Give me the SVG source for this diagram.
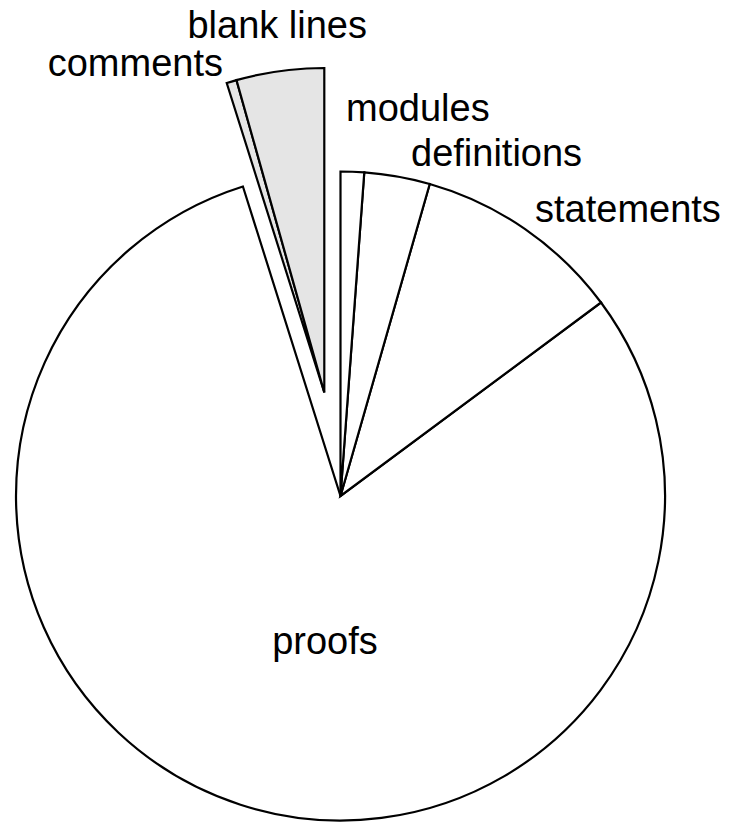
<svg xmlns="http://www.w3.org/2000/svg" width="731" height="822" viewBox="0 0 731 822">
<style>
.s{stroke:#000;stroke-width:2.2;stroke-linejoin:miter}
.w{fill:#fff}
.g{fill:#e5e5e5}
.t{font-family:"Liberation Sans",Arial,sans-serif;font-size:38px;fill:#000}
</style>
<rect width="731" height="822" fill="#fff"/>
<g id="proofs">
<path class="s w" d="M340.5,496 L601,302.5 A324.5,324.5 0 1 1 242.92,186.52 Z"/>
<text class="t" x="325" y="654" text-anchor="middle">proofs</text>
</g>
<g id="statements">
<path class="s w" d="M340.5,496 L429.72,184 A324.5,324.5 0 0 1 601,302.5 Z"/>
<text class="t" x="535" y="222">statements</text>
</g>
<g id="definitions">
<path class="s w" d="M340.5,496 L364.27,172.37 A324.5,324.5 0 0 1 429.72,184 Z"/>
<text class="t" x="411" y="166">definitions</text>
</g>
<g id="modules">
<path class="s w" d="M340.5,496 L340.5,171.5 A324.5,324.5 0 0 1 364.27,172.37 Z"/>
<text class="t" x="346" y="121">modules</text>
</g>
<g id="comments">
<path class="s g" d="M324.3,392.5 L226.72,83.02 A324.5,324.5 0 0 1 236.49,80.11 Z"/>
<text class="t" x="223" y="76" text-anchor="end">comments</text>
</g>
<g id="blank-lines">
<path class="s g" d="M324.3,392.5 L236.49,80.11 A324.5,324.5 0 0 1 324.3,68 Z"/>
<text class="t" x="367" y="38" text-anchor="end">blank lines</text>
</g>
</svg>
